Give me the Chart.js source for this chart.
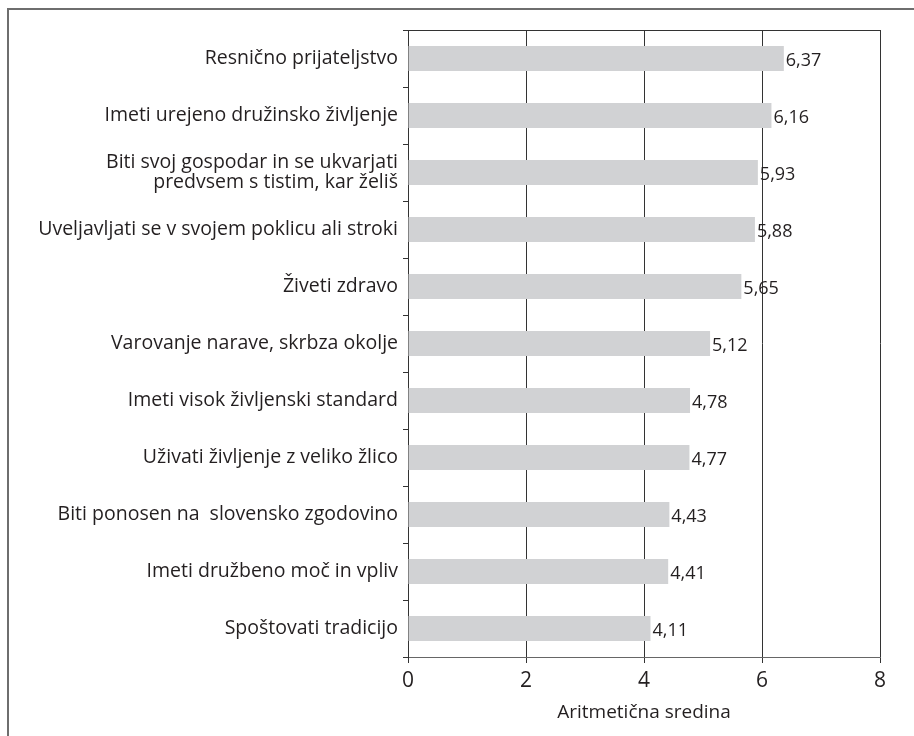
<!DOCTYPE html>
<html>
<head>
<meta charset="utf-8">
<script src="https://cdn.jsdelivr.net/npm/chart.js@4"></script>
<style>
html,body{margin:0;padding:0;background:#fff;}
#wrap{width:914px;height:736px;position:relative;}
</style>
</head>
<body>
<div id="wrap"><canvas id="c" width="914" height="736"></canvas></div>
<script>
const categories = [
  'Resnično prijateljstvo',
  'Imeti urejeno družinsko življenje',
  ['Biti svoj gospodar in se ukvarjati', 'predvsem s tistim, kar želiš'],
  'Uveljavljati se v svojem poklicu ali stroki',
  'Živeti zdravo',
  'Varovanje narave, skrbza okolje',
  'Imeti visok življenski standard',
  'Uživati življenje z veliko žlico',
  'Biti ponosen na  slovensko zgodovino',
  'Imeti družbeno moč in vpliv',
  'Spoštovati tradicijo'
];
const values = [6.37, 6.16, 5.93, 5.88, 5.65, 5.12, 4.78, 4.77, 4.43, 4.41, 4.11];
const valueLabels = ['6,37','6,16','5,93','5,88','5,65','5,12','4,78','4,77','4,43','4,41','4,11'];
const xTicks = [0, 2, 4, 6, 8];
const axisTitle = 'Aritmetična sredina';

const FONT = '"Open Sans", sans-serif';
const TXT = '#231f20';

const framePlugin = {
  id: 'frame',
  afterDraw(chart) {
    const ctx = chart.ctx;
    const a = chart.chartArea;
    ctx.save();
    ctx.strokeStyle = '#6e6e6e';
    ctx.lineWidth = 2;
    ctx.beginPath();
    ctx.moveTo(7, 9); ctx.lineTo(914, 9);
    ctx.moveTo(8, 9); ctx.lineTo(8, 736);
    ctx.stroke();
    ctx.strokeStyle = '#333';
    ctx.lineWidth = 1;
    ctx.beginPath();
    ctx.moveTo(a.left, a.top + 0.5); ctx.lineTo(a.right, a.top + 0.5);
    ctx.stroke();
    // value labels
    const meta = chart.getDatasetMeta(0);
    ctx.fillStyle = TXT;
    ctx.font = '18px ' + FONT;
    ctx.textBaseline = 'middle';
    ctx.textAlign = 'left';
    meta.data.forEach((bar, i) => {
      ctx.fillText(valueLabels[i], bar.x + 2, bar.y + 2);
    });
    ctx.restore();
  }
};

new Chart(document.getElementById('c'), {
  type: 'bar',
  data: {
    labels: categories,
    datasets: [{
      data: values,
      backgroundColor: '#d1d2d4',
      borderWidth: 0,
      barPercentage: 0.88,
      categoryPercentage: 0.5
    }]
  },
  options: {
    indexAxis: 'y',
    responsive: false,
    animation: false,
    devicePixelRatio: 1,
    layout: { padding: { top: 30, right: 34, left: 0, bottom: 0 } },
    plugins: { legend: { display: false }, tooltip: { enabled: false } },
    scales: {
      x: {
        min: 0, max: 8,
        afterBuildTicks(scale) { scale.ticks = xTicks.map(v => ({ value: v })); },
        afterFit(scale) { scale.height = 79; },
        grid: { color: '#333', lineWidth: 1, tickLength: 6, drawTicks: true },
        border: { color: '#666', width: 1 },
        ticks: { color: TXT, font: { family: FONT, size: 21 }, padding: 5 },
        title: { display: true, text: axisTitle, color: TXT, font: { family: FONT, size: 19 }, padding: { top: 0, bottom: 12 } }
      },
      y: {
        afterFit(scale) { scale.width = 408; },
        grid: { drawOnChartArea: false, drawTicks: true, tickLength: 5, color: '#333', offset: true },
        border: { color: '#333', width: 1 },
        ticks: { color: TXT, font: { family: FONT, size: 19.5, lineHeight: 1.05 }, padding: 5, autoSkip: false }
      }
    }
  },
  plugins: [framePlugin]
});
</script>
</body>
</html>
